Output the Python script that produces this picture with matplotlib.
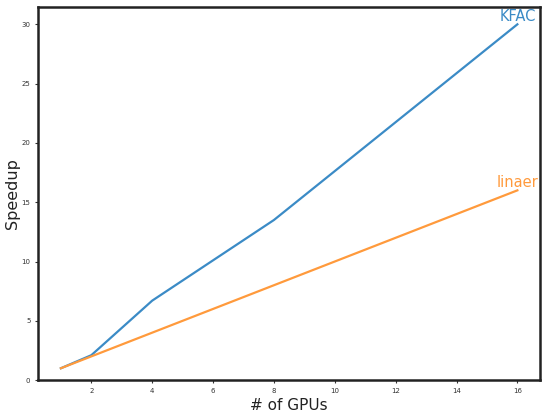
import numpy as np
import matplotlib
matplotlib.use("Agg")
import matplotlib.pyplot as plt

# GPU scaling data
gpus = [1, 2, 4, 8, 16]
kfac_speedup = [1.0, 2.1, 6.7, 13.5, 30.0]
linear_speedup = [1, 2, 4, 8, 16]

fig = plt.figure(figsize=(5.44, 4.2), dpi=100)
ax = fig.add_axes([0.07, 0.095, 0.923, 0.888])

ax.plot(gpus, kfac_speedup, color="#3b8bc6", linewidth=1.6)
ax.plot(gpus, linear_speedup, color="#ff9a3c", linewidth=1.6)

ax.text(gpus[-1], kfac_speedup[-1], "KFAC", color="#3b8bc6",
        ha="center", va="bottom", fontsize=10.5)
ax.text(gpus[-1], linear_speedup[-1], "linaer", color="#ff9a3c",
        ha="center", va="bottom", fontsize=10.5)

ax.set_ylim(0, 31.45)
ax.set_xticks([2, 4, 6, 8, 10, 12, 14, 16])
ax.set_yticks([0, 5, 10, 15, 20, 25, 30])
ax.tick_params(labelsize=5, length=2, width=0.8, colors="#333333")
for s in ax.spines.values():
    s.set_linewidth(1.8)
    s.set_color("#222222")

ax.set_xlabel("# of GPUs", fontsize=11, labelpad=3, color="#222222")
ax.set_ylabel("Speedup", fontsize=11.5, color="#222222")
ax.yaxis.set_label_coords(-0.037, 0.5)

fig.savefig("out.png", dpi=100)
